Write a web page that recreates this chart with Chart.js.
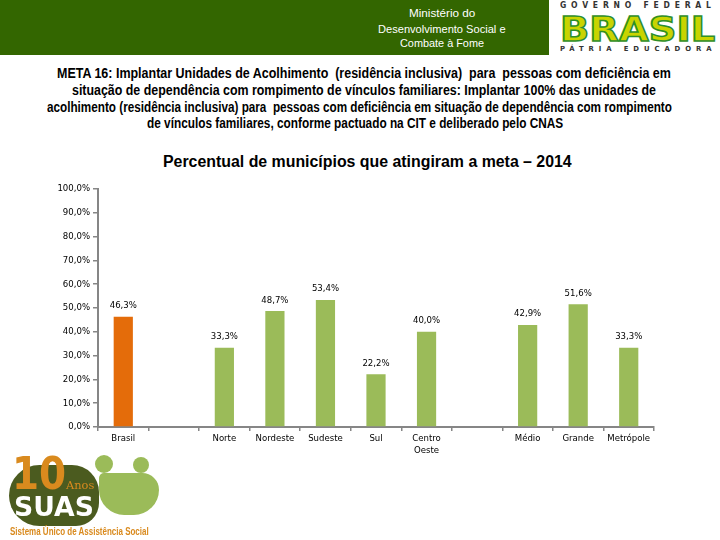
<!DOCTYPE html>
<html>
<head>
<meta charset="utf-8">
<script src="https://cdn.jsdelivr.net/npm/chart.js@4.4.1/dist/chart.umd.min.js"></script>
<style>
  html,body{margin:0;padding:0;background:#fff;}
  #wrap{position:relative;width:720px;height:540px;overflow:hidden;background:#fff;font-family:"Liberation Sans","Open Sans",sans-serif;}
  #hdr{position:absolute;left:0;top:0;width:549px;height:55px;background:#336600;}
  .fit{position:absolute;white-space:nowrap;transform-origin:0 50%;line-height:1;}
  canvas{position:absolute;left:0;top:0;}
</style>
</head>
<body>
<div id="wrap">
  <div id="hdr"></div>
  <div class="fit" data-x="409" data-y="13" data-w="66" style="color:#fff;font-size:11px;">Ministério do</div>
  <div class="fit" data-x="378" data-y="29" data-w="128" style="color:#fff;font-size:11px;">Desenvolvimento Social e</div>
  <div class="fit" data-x="400" data-y="43" data-w="84" style="color:#fff;font-size:11px;">Combate à Fome</div>

  <div class="fit" data-x="560" data-y="6" data-w="156" style="color:#333;font-size:8px;font-weight:bold;letter-spacing:5px;font-family:'DejaVu Sans',sans-serif;">GOVERNO FEDERAL</div>
  <div class="fit" data-x="560" data-y="29" data-w="155" style="font-family:'DejaVu Sans',sans-serif;font-weight:bold;font-size:34px;color:#c9d400;-webkit-text-stroke:1.5px #2f8f2a;">BRASIL</div>
  <div class="fit" data-x="560" data-y="49" data-w="156" style="color:#333;font-size:7px;font-weight:bold;letter-spacing:5px;font-family:'DejaVu Sans',sans-serif;">PÁTRIA EDUCADORA</div>

  <div class="fit" data-x="57" data-y="73" data-w="614" style="font-size:14px;font-weight:bold;">META 16: Implantar Unidades de Acolhimento&nbsp; (residência inclusiva)&nbsp; para&nbsp; pessoas com deficiência em</div>
  <div class="fit" data-x="72" data-y="90" data-w="584" style="font-size:14px;font-weight:bold;">situação de dependência com rompimento de vínculos familiares: Implantar 100% das unidades de</div>
  <div class="fit" data-x="47" data-y="107" data-w="625" style="font-size:14px;font-weight:bold;">acolhimento (residência inclusiva) para&nbsp; pessoas com deficiência em situação de dependência com rompimento</div>
  <div class="fit" data-x="147" data-y="123" data-w="416" style="font-size:14px;font-weight:bold;">de vínculos familiares, conforme pactuado na CIT e deliberado pelo CNAS</div>

  <div class="fit" data-x="163" data-y="162" data-w="409" style="font-size:16px;font-weight:bold;">Percentual de municípios que atingiram a meta – 2014</div>

  <canvas id="c" width="720" height="540"></canvas>

  <div style="position:absolute;left:9px;top:465px;width:90px;height:61px;background:#4b5b1f;border-radius:45px 40px 34px 45px;"></div>
  <div style="position:absolute;left:95px;top:455px;width:18px;height:18px;border-radius:9px;background:#9bbb59;"></div>
  <div style="position:absolute;left:133px;top:457px;width:16px;height:16px;border-radius:8px;background:#9bbb59;"></div>
  <div style="position:absolute;left:99px;top:473px;width:60px;height:42px;background:#9bbb59;border-radius:6px 20px 30px 30px;"></div>
  <div class="fit" data-x="12" data-y="474" data-w="54" style="font-family:'DejaVu Sans',sans-serif;font-weight:bold;font-size:44px;color:#d98a1e;">10</div>
  <div class="fit" data-x="66" data-y="485" data-w="28" style="font-family:'DejaVu Serif',serif;font-size:11px;color:#d98a1e;">Anos</div>
  <div class="fit" data-x="14" data-y="507" data-w="80" style="font-family:'DejaVu Sans',sans-serif;font-weight:bold;font-size:26px;color:#fff;">SUAS</div>
  <div class="fit" data-x="10" data-y="532" data-w="139" style="font-size:10px;color:#d98a1e;font-weight:bold;">Sistema Único de Assistência Social</div>
</div>
<script>
document.querySelectorAll('.fit').forEach(el => {
  const w = el.scrollWidth, h = el.offsetHeight;
  const tw = parseFloat(el.dataset.w);
  el.style.left = el.dataset.x + 'px';
  el.style.top = (parseFloat(el.dataset.y) - h / 2) + 'px';
  el.style.transform = 'scaleX(' + (tw / w) + ')';
});

const categories = ["Brasil", "", "Norte", "Nordeste", "Sudeste", "Sul", ["Centro", "Oeste"], "", "Médio", "Grande", "Metrópole"];
const values = [46.3, null, 33.3, 48.7, 53.4, 22.2, 40.0, null, 42.9, 51.6, 33.3];
const barColors = ["#E46C0A", "#9BBB59", "#9BBB59", "#9BBB59", "#9BBB59", "#9BBB59", "#9BBB59", "#9BBB59", "#9BBB59", "#9BBB59", "#9BBB59"];
const yTicks = [0, 10, 20, 30, 40, 50, 60, 70, 80, 90, 100];

const fmt = v => v.toFixed(1).replace('.', ',') + '%';
const FONT = '"Liberation Sans Narrow","DejaVu Sans Condensed","Open Sans",sans-serif';

const labelPlugin = {
  id: 'barLabels',
  afterDatasetsDraw(chart) {
    const ctx = chart.ctx;
    const meta = chart.getDatasetMeta(0);
    ctx.save();
    ctx.font = '9.5px ' + FONT;
    ctx.fillStyle = '#000';
    ctx.textAlign = 'center';
    ctx.textBaseline = 'middle';
    meta.data.forEach((el, i) => {
      const v = values[i];
      if (v === null || v === undefined) return;
      ctx.fillText(fmt(v), el.x, el.y - 11);
    });
    ctx.restore();
  }
};

new Chart(document.getElementById('c'), {
  type: 'bar',
  data: {
    labels: categories,
    datasets: [{
      data: values,
      backgroundColor: barColors,
      barPercentage: 0.38,
      categoryPercentage: 1.0
    }]
  },
  options: {
    responsive: false,
    animation: false,
    layout: { padding: { top: 189, right: 66, left: 0, bottom: 0 } },
    plugins: { legend: { display: false }, tooltip: { enabled: false }, title: { display: false } },
    scales: {
      x: {
        grid: { display: true, drawOnChartArea: false, tickLength: 4, color: '#868686', lineWidth: 1.5, offset: true },
        border: { display: true, color: '#868686', width: 2 },
        ticks: { color: '#000', font: { family: FONT, size: 9.5 }, padding: 2, maxRotation: 0, autoSkip: false },
        afterFit(scale) { scale.height = 113; }
      },
      y: {
        min: 0, max: 100,
        afterBuildTicks(scale) { scale.ticks = yTicks.map(v => ({ value: v })); },
        grid: { display: true, drawOnChartArea: false, tickLength: 5, color: '#868686', lineWidth: 1.5 },
        border: { display: true, color: '#868686', width: 2 },
        ticks: { color: '#000', font: { family: FONT, size: 9.5 }, padding: 3, callback: v => fmt(v) },
        afterFit(scale) { scale.width = 98; }
      }
    }
  },
  plugins: [labelPlugin]
});
</script>
</body>
</html>
